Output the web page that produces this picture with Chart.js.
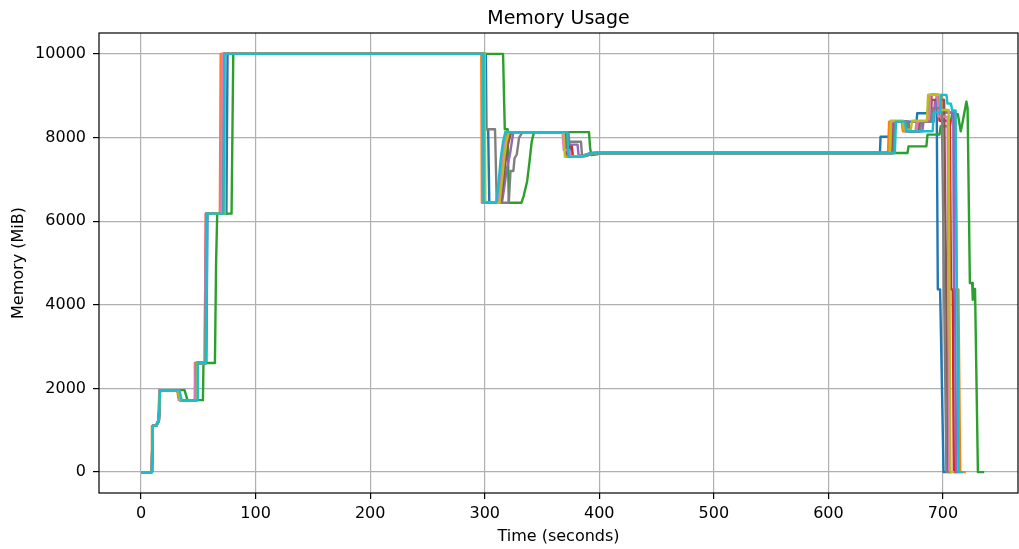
<!DOCTYPE html>
<html>
<head>
<meta charset="utf-8">
<title>Memory Usage</title>
<script src="https://cdn.jsdelivr.net/npm/chart.js@4/dist/chart.umd.min.js"></script>
<style>
  html, body { margin: 0; padding: 0; background: #ffffff; }
  canvas { display: block; }
</style>
</head>
<body>
<canvas id="chart" width="1019" height="549"></canvas>
<script>
// Memory samples per run: [time in seconds, memory in MiB]
const run1 = [[0,0],[9.5,0],[10,1105],[13.5,1110],[14.5,1190],[15.5,1200],[16.5,1960],[33,1960],[34.5,1720],[48.5,1720],[49,2610],[57,2610],[58,6180],[74.5,6180],[75.5,10000],[301,10000],[301.5,8200],[303,8200],[304,6440],[312,6440],[314,6700],[317,7300],[320,7900],[322,8130],[369,8130],[370,7800],[374,7800],[375,7540],[385,7560],[392,7630],[645,7630],[645.5,8020],[655,8020],[655.5,8380],[677,8380],[677.5,8580],[687,8580],[687.5,9020],[694.5,9020],[695.5,4370],[697.5,4370],[700.5,0],[703,0]];
const run2 = [[0,0],[9,0],[9.5,1105],[13,1110],[14,1190],[15,1210],[16,1960],[31.5,1960],[33,1720],[46.5,1720],[47,2610],[55.5,2610],[56.5,6180],[68.8,6180],[69.5,10000],[297,10000],[297.5,6440],[311,6440],[313,6800],[315,7500],[318,8000],[320,8130],[371,8130],[372,7540],[388,7560],[396,7630],[652,7630],[653,8380],[664,8380],[665,8150],[676,8150],[677,8380],[688,8380],[689,9020],[699,9020],[700,8600],[711,8600],[712,4370],[713.5,4370],[715,0],[720,0]];
const run3 = [[0,0],[9.5,0],[10,1105],[13.5,1110],[14.5,1190],[15.5,1200],[16.5,1960],[38,1960],[40.5,1720],[54,1720],[54.5,2610],[64.5,2610],[65.5,5000],[66.5,6180],[79,6180],[80.5,10000],[316,10000],[317.5,8200],[320,8200],[321,6440],[332,6440],[334,6600],[337,6950],[339,7400],[341,7900],[343,8130],[391,8130],[392,7750],[393,7580],[398,7600],[402,7630],[669,7630],[670,7790],[685.5,7790],[686.5,8070],[697,8070],[698,8270],[706,8270],[708,8560],[713,8560],[715.5,8150],[717,8350],[720.5,8860],[721.5,8700],[723.5,4520],[725.5,4520],[726,4120],[727,4380],[728,4380],[730.5,0],[736,0]];
const run4 = [[0,0],[9.5,0],[10,1105],[13.5,1110],[14.5,1190],[15.5,1200],[16.5,1960],[32,1960],[33.5,1720],[47.5,1720],[48,2610],[56,2610],[57,6180],[70.5,6180],[71.2,10000],[299,10000],[299.5,6440],[313,6440],[315,6900],[317,7350],[319,7700],[321,8130],[370,8130],[371,7800],[376,7800],[377,7540],[390,7580],[397,7630],[655,7630],[656,8380],[668,8380],[669,8150],[679,8150],[680,8380],[689,8380],[690,9020],[696,9020],[697,8400],[706,8400],[707,4370],[708.5,4370],[709.5,0],[713,0]];
const run5 = [[0,0],[9.5,0],[10,1105],[13.5,1110],[14.5,1190],[15.5,1200],[16.5,1960],[32,1960],[33.5,1720],[48,1720],[48.5,2610],[56.5,2610],[57.5,6180],[71,6180],[71.8,10000],[299.5,10000],[300,6440],[315,6440],[317,6800],[319,7200],[322,7600],[325,8130],[373,8130],[374,7830],[381,7830],[382,7560],[392,7600],[398,7630],[657,7630],[658,8380],[670,8380],[671,8150],[682,8150],[683,8380],[692,8380],[693,8900],[698,8900],[699,8600],[709,8600],[709.5,4370],[710.5,4370],[711.5,0],[714,0]];
const run6 = [[0,0],[9.5,0],[10,1105],[13.5,1110],[14.5,1190],[15.5,1200],[16.5,1960],[32.5,1960],[34,1720],[48,1720],[48.5,2610],[56,2610],[57,6180],[71.5,6180],[72.3,10000],[299,10000],[299.5,6440],[314,6440],[316,6900],[318,7400],[320,7800],[323,8130],[370,8130],[371,7540],[388,7560],[395,7630],[656,7630],[657,8380],[667,8380],[668,8150],[678,8150],[679,8380],[689,8380],[690,8900],[701,8900],[704.5,0],[707,0]];
const run7 = [[0,0],[9.5,0],[10,1105],[13.5,1110],[14.5,1190],[15.5,1200],[16,1960],[32,1960],[33.5,1720],[47,1720],[47.5,2610],[55.5,2610],[56.5,6180],[70,6180],[70.8,10000],[298.5,10000],[299,6440],[312,6440],[314,7000],[316,7600],[318,8130],[368,8130],[369,7700],[374,7700],[375,7540],[388,7570],[396,7630],[654,7630],[655,8380],[666,8380],[667,8150],[677,8150],[678,8380],[688,8380],[689,9020],[695,9020],[696,8500],[704,8500],[705.5,0],[708,0]];
const run8 = [[0,0],[9.5,0],[10,1105],[13.5,1110],[14.5,1190],[15.5,1200],[16.5,1960],[32.5,1960],[34,1720],[48,1720],[48.5,2610],[56,2610],[57,6180],[72,6180],[72.8,10000],[300,10000],[300.5,8200],[309,8200],[310.5,6440],[321,6440],[322.5,7200],[325,7200],[326,7500],[328,7600],[330,8000],[333,8130],[372,8130],[373,7900],[384,7900],[385,7560],[394,7600],[400,7630],[657,7630],[658,8380],[669,8380],[670,8150],[680,8150],[681,8380],[690,8380],[691,8700],[699,8700],[703,0],[706,0]];
const run9 = [[0,0],[9.5,0],[10,1105],[13.5,1110],[14.5,1190],[15.5,1200],[16.5,1960],[32.5,1960],[34,1720],[48.5,1720],[49,2610],[56.5,2610],[57.5,6180],[72.5,6180],[73.2,10000],[300,10000],[300.5,6440],[313,6440],[315,6950],[317,7500],[319,7900],[321,8130],[369,8130],[370,7540],[386,7560],[394,7630],[653.5,7630],[654.5,8400],[665,8400],[666,8190],[672,8190],[673,8400],[686,8400],[687,9020],[697,9020],[698,8660],[705,8660],[706.5,0],[710,0]];
const run10 = [[0,0],[9.5,0],[10,1105],[13.5,1110],[14.5,1190],[15.5,1200],[16.5,1960],[33.5,1960],[35.5,1720],[49,1720],[49.5,2610],[56.5,2610],[57.5,6180],[72,6180],[72.7,10000],[298.5,10000],[299,6440],[310,6440],[312,6900],[314,7500],[316,7900],[318,8130],[372,8130],[373,7540],[386,7550],[393,7630],[658,7630],[659,8380],[667,8380],[668,8150],[691,8150],[692,8600],[697.5,8600],[698.5,9020],[703,9020],[704,8810],[707,8810],[708,8650],[711,8650],[712,4370],[712.5,4370],[713.5,0],[717.5,0]];

const runs = [run1, run2, run3, run4, run5, run6, run7, run8, run9, run10];
const runColors = ['#1f77b4', '#ff7f0e', '#2ca02c', '#d62728', '#9467bd',
                   '#8c564b', '#e377c2', '#7f7f7f', '#bcbd22', '#17becf'];

const xTicks = [0, 100, 200, 300, 400, 500, 600, 700];
const yTicks = [0, 2000, 4000, 6000, 8000, 10000];
const xRange = [-36.7, 765.5];
const yRange = [-500, 10500];

const chartTitle = 'Memory Usage';
const FONT = "'DejaVu Sans', sans-serif";

// Black frame around the plotting area (drawn above the lines) and the
// title centred over the plotting area rather than the whole canvas
const frame = {
  id: 'frame',
  afterDatasetsDraw(chart) {
    const { ctx, chartArea: a } = chart;
    ctx.save();
    ctx.strokeStyle = '#000000';
    ctx.lineWidth = 1.2;
    ctx.strokeRect(a.left, a.top, a.right - a.left, a.bottom - a.top);
    ctx.restore();
  },
  afterDraw(chart) {
    const { ctx, chartArea: a } = chart;
    ctx.save();
    ctx.fillStyle = '#000000';
    ctx.font = '19px ' + FONT;
    ctx.textAlign = 'center';
    ctx.textBaseline = 'alphabetic';
    ctx.fillText(chartTitle, (a.left + a.right) / 2, 24);
    ctx.restore();
  }
};

const datasets = runs.map((run, i) => ({
  data: run.map(([t, m]) => ({ x: t, y: m })),
  borderColor: runColors[i],
  backgroundColor: runColors[i],
  borderWidth: 2.4,
  pointRadius: 0,
  tension: 0,
  fill: false,
  borderJoinStyle: 'round',
  order: runs.length - i
}));

const plainNumber = value => String(value);

new Chart(document.getElementById('chart'), {
  type: 'line',
  data: { datasets },
  plugins: [frame],
  options: {
    responsive: false,
    devicePixelRatio: 1,
    animation: false,
    layout: { padding: { left: 0, right: 1, top: 33, bottom: 0 } },
    plugins: {
      legend: { display: false },
      tooltip: { enabled: false },
      title: { display: false }
    },
    scales: {
      x: {
        type: 'linear',
        min: xRange[0],
        max: xRange[1],
        afterBuildTicks(scale) { scale.ticks = xTicks.map(v => ({ value: v })); },
        afterFit(scale) { scale.height = 56; },
        ticks: {
          color: '#000000',
          font: { family: FONT, size: 16 },
          padding: 5,
          maxRotation: 0,
          autoSkip: false,
          callback: plainNumber
        },
        grid: {
          color: '#b0b0b0',
          lineWidth: 1.2,
          tickColor: '#000000',
          tickLength: 6,
          tickWidth: 1.2
        },
        border: { display: false },
        title: {
          display: true,
          text: 'Time (seconds)',
          color: '#000000',
          font: { family: FONT, size: 16 },
          padding: { top: 0, bottom: 3 }
        }
      },
      y: {
        type: 'linear',
        min: yRange[0],
        max: yRange[1],
        afterBuildTicks(scale) { scale.ticks = yTicks.map(v => ({ value: v })); },
        afterFit(scale) { scale.width = 99; },
        ticks: {
          color: '#000000',
          font: { family: FONT, size: 16 },
          padding: 7,
          autoSkip: false,
          callback: plainNumber
        },
        grid: {
          color: '#b0b0b0',
          lineWidth: 1.2,
          tickColor: '#000000',
          tickLength: 6,
          tickWidth: 1.2
        },
        border: { display: false },
        title: {
          display: true,
          text: 'Memory (MiB)',
          color: '#000000',
          font: { family: FONT, size: 16 },
          padding: { top: 9, bottom: 0 }
        }
      }
    }
  }
});
</script>
</body>
</html>
